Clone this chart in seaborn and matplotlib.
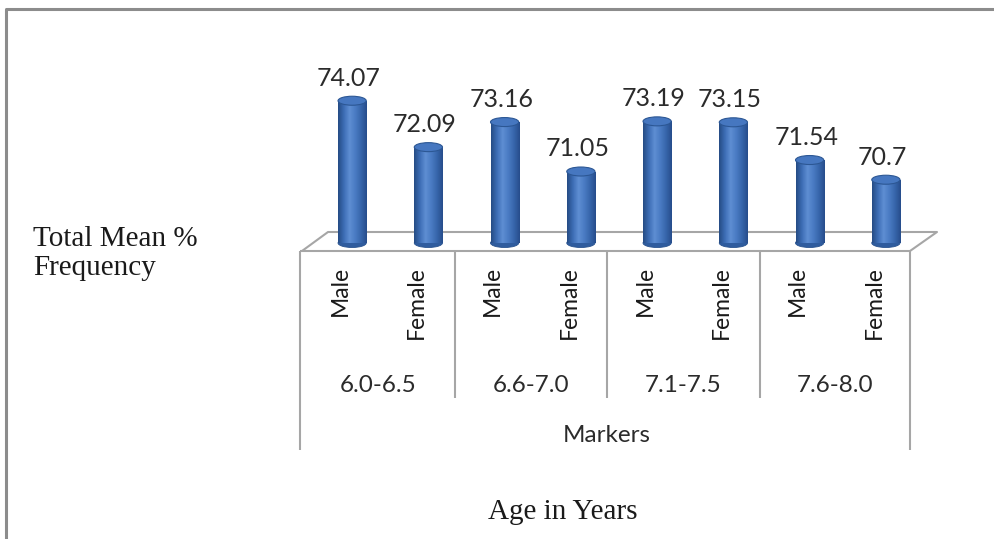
import numpy as np
import pandas as pd
import matplotlib
matplotlib.use("Agg")
import matplotlib.pyplot as plt
import seaborn as sns
from matplotlib.patches import Ellipse
from matplotlib.lines import Line2D
from matplotlib.colors import LinearSegmentedColormap
from matplotlib.transforms import ScaledTranslation

# ---- data ----
groups = ["6.0-6.5", "6.6-7.0", "7.1-7.5", "7.6-8.0"]
sexes = ["Male", "Female"]
male_values = [74.07, 73.16, 73.19, 71.54]
female_values = [72.09, 71.05, 73.15, 70.7]
group_title = "Markers"
y_title = "Total Mean %\nFrequency"
x_title = "Age in Years"

rows = []
for g, m, f in zip(groups, male_values, female_values):
    rows.append((g, "Male", m))
    rows.append((g, "Female", f))
df = pd.DataFrame(rows, columns=["group", "sex", "value"])
df["key"] = df["group"] + " " + df["sex"]

sns.set_theme(style="white")
plt.rcParams["font.family"] = ["Lato", "DejaVu Sans"]

W, H = 994, 539
fig = plt.figure(figsize=(W / 100, H / 100), dpi=100)
fig.patch.set_facecolor("white")


def P(x, y):
    return (x / W, 1 - y / H)


YMIN, YMAX = 68, 76
AX_BOTTOM, AX_H = 243, 187.5
ax = fig.add_axes([314 / W, 1 - AX_BOTTOM / H, 610 / W, AX_H / H])
ax.patch.set_visible(False)

bar_color = "#3A6AB2"
sns.barplot(data=df, x="key", y="value", order=list(df["key"]), color=bar_color,
            saturation=1, width=0.37, ax=ax, zorder=3, edgecolor="#2A548F", linewidth=0.6)

cmap = LinearSegmentedColormap.from_list(
    "cyl", ["#254c85", "#3d6db5", "#5e8ed3", "#4a7bc3", "#3766ab", "#274d8c"])
grad = np.linspace(0, 1, 64).reshape(1, -1)
eh = 9 / (AX_H / (YMAX - YMIN))  # ellipse height in data units

bars = list(ax.patches)
for p in bars:
    x0, w, h = p.get_x(), p.get_width(), p.get_height()
    cx = x0 + w / 2
    im = ax.imshow(grad, extent=[x0, x0 + w, YMIN, h], aspect="auto", cmap=cmap,
                   origin="lower", zorder=3.1)
    im.set_clip_path(p)
    # bottom rounding
    ax.add_patch(Ellipse((cx, YMIN), w, eh, facecolor="#2f5c9e", edgecolor="#28528e",
                         lw=0.6, zorder=2.9, clip_on=False))
    # top cap
    ax.add_patch(Ellipse((cx, h), w, eh, facecolor="#4677c0", edgecolor="#2c5794",
                         lw=0.8, zorder=3.3, clip_on=False))
    ax.annotate(f"{h:g}", (cx, h), xytext=(-2.5, 8), textcoords="offset points",
                ha="center", va="bottom", fontsize=18, color="#2b2b2b")

ax.set_xlim(-0.5, 7.5)
ax.set_ylim(YMIN, YMAX)
ax.set_xlabel("")
ax.set_ylabel("")
ax.set_yticks([])
for s in ax.spines.values():
    s.set_visible(False)
ax.set_xticks(range(len(df)))
ax.set_xticklabels(list(df["sex"]), rotation=90, va="top", ha="center",
                   fontsize=16.5, color="#1a1a1a")
ax.tick_params(axis="x", length=0, pad=16.5)
for lbl in ax.get_xticklabels():
    lbl.set_transform(lbl.get_transform() + ScaledTranslation(-0.12, 0, fig.dpi_scale_trans))

# ---- floor and table decorations ----
grid_c = "#a6a6a6"


def fline(pts, lw=1.5, color=grid_c, z=2):
    xs = [P(*q)[0] for q in pts]
    ys = [P(*q)[1] for q in pts]
    fig.add_artist(Line2D(xs, ys, transform=fig.transFigure, color=color, lw=lw,
                          zorder=z, solid_capstyle="butt"))


fline([(302, 251), (328, 232), (937, 232), (910, 251)], z=-1)
fline([(300, 251), (910, 251)], z=5)
fline([(300, 251), (300, 450)], z=5)
fline([(910, 251), (910, 450)], z=5)
for xv in [455, 607, 760]:
    fline([(xv, 251), (xv, 398)], z=5)

# outer frame
fline([(6, 539), (6, 9), (994, 9)], lw=2.2, color="#8c8c8c", z=5)

# group labels
for g, xc in zip(groups, [378, 531, 683, 835]):
    fig.text(*P(xc, 386), g, ha="center", va="center", fontsize=17.5, color="#2b2b2b")
fig.text(*P(607, 436), group_title, ha="center", va="center", fontsize=17.5, color="#2b2b2b")

serif = ["Liberation Serif", "DejaVu Serif"]
fig.text(*P(33, 253), y_title, ha="left", va="center", fontsize=21, family=serif,
         linespacing=1.15, color="#1a1a1a")
fig.text(*P(563, 512), x_title, ha="center", va="center", fontsize=21, family=serif,
         color="#1a1a1a")

fig.savefig("out.png", dpi=100, facecolor="white")
